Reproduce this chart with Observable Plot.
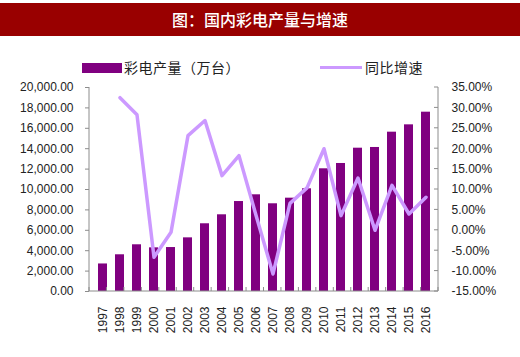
<!DOCTYPE html>
<html><head><meta charset="utf-8">
<script src="https://cdn.jsdelivr.net/npm/d3@7"></script>
<script src="https://cdn.jsdelivr.net/npm/@observablehq/plot@0.6"></script>
<style>
body{margin:0;background:#fff;width:520px;height:357px;overflow:hidden;position:relative;font-family:"Liberation Sans",Arial,sans-serif}
#title{position:absolute;left:0;top:3px;width:520px;height:33px;background:#990000;color:#fff;font:500 16px "Noto Sans CJK SC",sans-serif;text-align:center;line-height:33px}
.lg{position:absolute;font:14px "Noto Sans CJK SC",sans-serif;color:#222;top:57px;line-height:20px;letter-spacing:0.5px}
#chart{position:absolute;left:0;top:80px}
</style></head>
<body>
<div id="title">图：国内彩电产量与增速</div>
<div style="position:absolute;left:82px;top:63px;width:40px;height:10px;background:#800080"></div>
<div class="lg" style="left:124px">彩电产量（万台）</div>
<div style="position:absolute;left:320px;top:66px;width:42px;height:3px;background:#cc99ff"></div>
<div class="lg" style="left:365px">同比增速</div>
<div id="chart"></div>
<script>
const years = ["1997","1998","1999","2000","2001","2002","2003","2004","2005","2006","2007","2008","2009","2010","2011","2012","2013","2014","2015","2016"];
const production = [2700,3600,4580,4280,4310,5260,6640,7520,8820,9480,8600,9150,10070,12030,12550,14050,14120,15620,16340,17580];
const growth = [null,32.5,28.3,-6.6,-0.5,23.2,26.9,13.4,18.3,3.7,-10.7,6.6,10.4,20.0,3.6,12.8,0.0,11.0,4.0,8.1];
const leftTicks = [0,2000,4000,6000,8000,10000,12000,14000,16000,18000,20000];
const rightTicks = [-15,-10,-5,0,5,10,15,20,25,30,35];

const yMax = 20000, gMin = -15, gMax = 35;
const g2y = g => (g - gMin) / (gMax - gMin) * yMax;
const y2g = v => v / yMax * (gMax - gMin) + gMin;

const prodData = years.map((y, i) => ({year: y, value: production[i]}));
const growthData = years.map((y, i) => ({year: y, value: growth[i]})).filter(d => d.value != null);

const axisColor = "#8c8c8c";

function decorations(index, scales, values, dims) {
  const g = d3.create("svg:g").attr("stroke", axisColor).attr("fill", "none");
  const x0 = dims.marginLeft, x1 = dims.width - dims.marginRight;
  const yb = dims.height - dims.marginBottom, yt = dims.marginTop;
  g.append("line").attr("x1", x0).attr("x2", x0).attr("y1", yt).attr("y2", yb);
  g.append("line").attr("x1", x1).attr("x2", x1).attr("y1", yt).attr("y2", yb);
  g.append("line").attr("x1", x0).attr("x2", x1).attr("y1", yb).attr("y2", yb);
  const step = (x1 - x0) / years.length;
  for (let i = 0; i <= years.length; i++) {
    const x = x0 + i * step;
    g.append("line").attr("x1", x).attr("x2", x).attr("y1", yb).attr("y2", yb - 4);
  }
  for (const t of rightTicks) {
    const y = scales.y(g2y(t));
    g.append("line").attr("x1", x1 - 4).attr("x2", x1).attr("y1", y).attr("y2", y);
  }
  return g.node();
}

const chart = Plot.plot({
  width: 520,
  height: 277,
  marginLeft: 89,
  marginRight: 82,
  marginTop: 7,
  marginBottom: 66,
  style: {background: "transparent", fontFamily: "Liberation Sans, Arial, sans-serif", color: "#222"},
  x: {domain: years, paddingInner: 0.48, paddingOuter: 0.24, label: null},
  y: {domain: [0, yMax], label: null},
  marks: [
    Plot.barY(prodData, {x: "year", y: "value", fill: "#800080"}),
    Plot.line(growthData, {x: "year", y: d => g2y(d.value), stroke: "#cc99ff", strokeWidth: 3.5}),
    Plot.axisY({anchor: "left", label: null, ticks: leftTicks, tickFormat: d3.format(",.2f"), tickSize: 4, tickPadding: 12, stroke: axisColor, fontSize: 12, fill: "#222", style: "letter-spacing:1.3px"}),
    Plot.axisY({anchor: "right", label: null, ticks: rightTicks.map(g2y), tickFormat: v => y2g(v).toFixed(2) + "%", tickSize: 0, tickPadding: 13, fontSize: 12, fill: "#222", style: "letter-spacing:1.3px"}),
    Plot.axisX({label: null, tickRotate: -90, tickSize: 0, tickPadding: 15, fontSize: 12, fill: "#222", style: "letter-spacing:0.6px"}),
    decorations
  ]
});
document.getElementById("chart").appendChild(chart);
</script>
</body></html>
